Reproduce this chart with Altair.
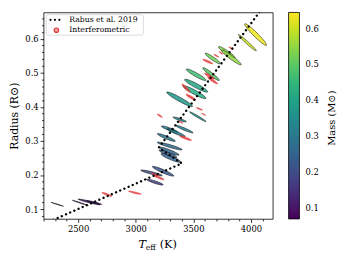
import numpy as np
import pandas as pd
import altair as alt

FONT = "DejaVu Serif"

# ---------------- data ----------------
# coloured error ellipses (centre Teff [K], centre R [Rsun], sigma Teff, sigma R, correlation, mass [Msun])
ell_teff = [2318, 2519, 2595, 2640, 3166, 3137, 3237, 3280, 3305, 3290, 3295, 3266, 3295, 3352,
            3420, 3381, 3539, 3381, 3525, 3510, 3525, 3654, 3668, 3790, 3830, 3969, 4041]
ell_rad = [0.114, 0.118, 0.121, 0.119, 0.179, 0.206, 0.211, 0.262, 0.250, 0.270, 0.285, 0.310,
           0.334, 0.324, 0.335, 0.363, 0.371, 0.422, 0.462, 0.443, 0.494, 0.496, 0.542, 0.560,
           0.545, 0.588, 0.612]
ell_sig_teff = [55, 70, 95, 65, 72, 93, 93, 78, 86, 86, 108, 78, 72, 78,
                78, 58, 72, 112, 100, 100, 86, 72, 65, 72, 86, 78, 95]
ell_sig_rad = [0.0058, 0.0080, 0.0085, 0.0058, 0.0087, 0.0087, 0.0145, 0.0116, 0.0130, 0.0120,
               0.0116, 0.0116, 0.0100, 0.0116, 0.0116, 0.0073, 0.0145, 0.0217, 0.0190, 0.0190,
               0.0170, 0.0190, 0.0155, 0.0170, 0.0220, 0.0240, 0.0320]
ell_rho = [-0.995, -0.99, -0.95, -0.93, -0.9, -0.9, -0.93, -0.9, -0.9, -0.92, -0.93, -0.92,
           -0.9, -0.93, -0.95, -0.9, -0.98, -0.95, -0.93, -0.93, -0.93, -0.95, -0.93, -0.93,
           -0.95, -0.98, -0.96]
ell_mass = [0.08, 0.09, 0.10, 0.12, 0.17, 0.20, 0.22, 0.24, 0.25, 0.26, 0.27, 0.29, 0.30, 0.31,
            0.33, 0.33, 0.37, 0.38, 0.41, 0.42, 0.47, 0.49, 0.52, 0.54, 0.55, 0.60, 0.63]

# interferometric stars
int_teff = [2749, 2993, 3170, 3203, 3209, 3390, 3433, 3436, 3480, 3553, 3590, 3640, 3668, 3625,
            3700, 3740, 3826]
int_rad = [0.143, 0.148, 0.201, 0.192, 0.374, 0.355, 0.308, 0.455, 0.428, 0.394, 0.378, 0.490,
           0.477, 0.533, 0.550, 0.558, 0.572]
int_sig_teff = [43, 55, 35, 43, 22, 20, 52, 35, 43, 28, 17, 43, 43, 43, 22, 17, 17]
int_sig_rad = [0.006, 0.005, 0.004, 0.006, 0.005, 0.003, 0.007, 0.012, 0.009, 0.004, 0.003,
               0.009, 0.010, 0.007, 0.004, 0.004, 0.004]
int_rho = [-0.9, -0.9, -0.9, -0.9, -0.9, -0.9, -0.9, -0.93, -0.9, -0.9, -0.9, -0.9, -0.93,
           -0.9, -0.9, -0.9, -0.9]

# Rabus et al. 2019 relation (piecewise, with discontinuity)
rabus_teff = [2250, 3400, 3200, 4120]
rabus_rad = [0.063, 0.234, 0.280, 0.699]

x_ticks = list(range(2200, 4200, 100))
y_ticks = [round(0.08 + 0.02 * i, 2) for i in range(30)]
cbar_ticks = [0.1, 0.2, 0.3, 0.4, 0.5, 0.6]

# ---------------- ellipse outlines ----------------
theta = np.linspace(0, 2 * np.pi, 48, endpoint=False)


def outlines(teff, rad, st, sr, rho, mass=None):
    rows = []
    c, s = np.cos(theta), np.sin(theta)
    for k in range(len(teff)):
        xs = teff[k] + st[k] * c
        ys = rad[k] + sr[k] * (rho[k] * c + np.sqrt(1 - rho[k] ** 2) * s)
        for j in range(len(theta)):
            row = {"id": k, "ord": j, "teff": float(xs[j]), "radius": float(ys[j])}
            if mass is not None:
                row["mass"] = mass[k]
            rows.append(row)
    return pd.DataFrame(rows)


ell_df = outlines(ell_teff, ell_rad, ell_sig_teff, ell_sig_rad, ell_rho, ell_mass)
int_df = outlines(int_teff, int_rad, int_sig_teff, int_sig_rad, int_rho)
rabus_df = pd.DataFrame({"teff": rabus_teff, "radius": rabus_rad, "ord": list(range(len(rabus_teff)))})
one = pd.DataFrame({"k": [0]})

# ---------------- encodings ----------------
major_x = "datum.value % 500 === 0"
major_y = "abs(datum.value*10 - round(datum.value*10)) < 0.001"

x_enc = alt.X(
    "teff:Q",
    scale=alt.Scale(domain=[2200, 4190], nice=False, zero=False),
    axis=alt.Axis(values=x_ticks, format="d",
                  labelExpr=f"{major_x} ? datum.label : ''",
                  tickSize={"condition": {"test": major_x, "value": 3.5}, "value": 2},
                  title=None, grid=False, domain=False, labelOverlap=False,
                  labelPadding=2, labelFont=FONT, labelFontSize=8.5, labelColor="black",
                  tickColor="black", tickWidth=0.8),
)
y_enc = alt.Y(
    "radius:Q",
    scale=alt.Scale(domain=[0.071, 0.677], nice=False, zero=False),
    axis=alt.Axis(values=y_ticks,
                  labelExpr=f"{major_y} ? format(datum.value, '.1f') : ''",
                  tickSize={"condition": {"test": major_y, "value": 3.5}, "value": 2},
                  title="Radius (R⊙)", titleFont=FONT, titleFontSize=11,
                  titleFontWeight="normal", titleColor="black", titlePadding=5,
                  grid=False, domain=False, labelOverlap=False, labelPadding=2,
                  labelFont=FONT, labelFontSize=8.5, labelColor="black",
                  tickColor="black", tickWidth=0.8),
)

ellipses = alt.Chart(ell_df).mark_line(
    filled=True, interpolate="linear-closed", stroke="black", strokeWidth=0.5,
    fillOpacity=0.85, clip=True
).encode(
    x=x_enc, y=y_enc, detail="id:N", order="ord:Q",
    color=alt.Color("mass:Q",
                    scale=alt.Scale(scheme="viridis", domain=[0.07, 0.645], nice=False),
                    legend=alt.Legend(orient="none", legendX=248, legendY=0,
                                      direction="vertical", title=None,
                                      gradientLength=209, gradientThickness=11,
                                      values=cbar_ticks, format=".1f",
                                      labelFont=FONT, labelFontSize=8.5, labelColor="black",
                                      labelOffset=6, gradientStrokeColor="black",
                                      gradientStrokeWidth=0.8, labelOverlap=False, padding=0)),
)

interf = alt.Chart(int_df).mark_line(
    filled=True, interpolate="linear-closed", fill="#e23b3b", stroke="#e23b3b",
    strokeWidth=0.5, fillOpacity=0.85, strokeOpacity=0.9, clip=True
).encode(x=x_enc, y=y_enc, detail="id:N", order="ord:Q")

rabus = alt.Chart(rabus_df).mark_line(
    color="black", strokeDash=[0.01, 4.6], strokeCap="round", strokeWidth=2.4, clip=True
).encode(x=x_enc, y=y_enc, order="ord:Q")

# legend (manual)
box = alt.Chart(one).mark_rect(
    fill="white", stroke="#cccccc", strokeWidth=0.8, cornerRadius=2, opacity=0.85
).encode(x=alt.value(2.7), x2=alt.value(101), y=alt.value(2.3), y2=alt.value(23))
leg_line = alt.Chart(one).mark_rule(
    color="black", strokeDash=[0.01, 4.5], strokeCap="round", strokeWidth=2.3
).encode(x=alt.value(7), x2=alt.value(17), y=alt.value(7.5))
leg_pt = alt.Chart(one).mark_point(
    shape="circle", size=20, filled=True, fill="#f4a3a3", stroke="#e23b3b", strokeWidth=1.2, opacity=1
).encode(x=alt.value(13), y=alt.value(18))
leg_t1 = alt.Chart(one).mark_text(
    text="Rabus et al. 2019", font=FONT, fontSize=7.8, align="left", baseline="middle", color="black"
).encode(x=alt.value(26), y=alt.value(7.5))
leg_t2 = alt.Chart(one).mark_text(
    text="Interferometric", font=FONT, fontSize=7.8, align="left", baseline="middle", color="black"
).encode(x=alt.value(26), y=alt.value(18))

# x-axis title composed: T_eff (K)
xt1 = alt.Chart(one).mark_text(
    text="T", font=FONT, fontStyle="italic", fontSize=11.5, align="left", baseline="alphabetic", color="black"
).encode(x=alt.value(96), y=alt.value(238))
xt2 = alt.Chart(one).mark_text(
    text="eff", font=FONT, fontSize=7.8, align="left", baseline="alphabetic", color="black"
).encode(x=alt.value(103.5), y=alt.value(240.5))
xt3 = alt.Chart(one).mark_text(
    text="(K)", font=FONT, fontSize=11.5, align="left", baseline="alphabetic", color="black"
).encode(x=alt.value(117.5), y=alt.value(238))

# colourbar title
cbt = alt.Chart(one).mark_text(
    text="Mass (M⊙)", font=FONT, fontSize=10, angle=270, align="center", baseline="middle", color="black"
).encode(x=alt.value(292), y=alt.value(107))

chart = alt.layer(
    ellipses, interf, rabus, box, leg_line, leg_pt, leg_t1, leg_t2, xt1, xt2, xt3, cbt
).properties(
    width=232, height=209,
    padding={"left": 0, "top": 3, "right": 0, "bottom": 0},
    background="white",
).configure_view(stroke="black", strokeWidth=0.8)

chart.save("out.html", embed_options={"renderer": "svg", "actions": False})
